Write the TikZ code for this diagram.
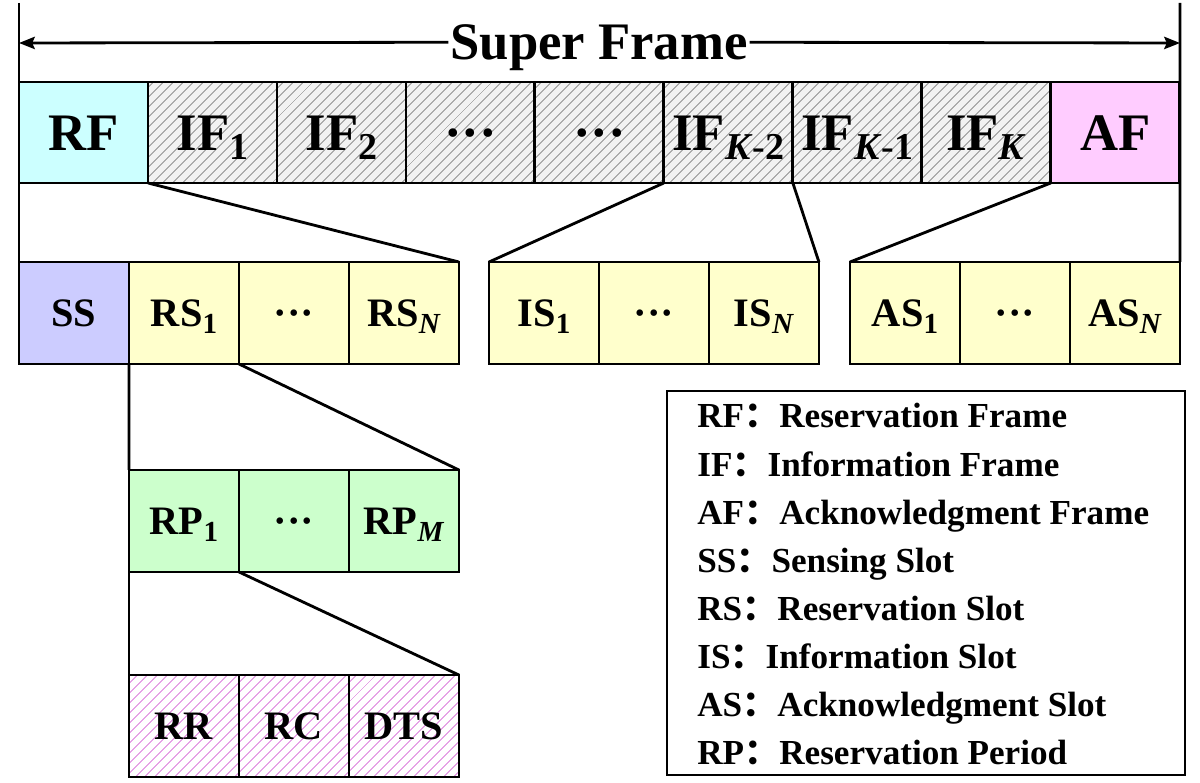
\documentclass[tikz,border=0pt]{standalone}
\usepackage{fontspec}
\setmainfont{Liberation Serif}
\newfontfamily\cjk{Noto Sans CJK SC}
\usetikzlibrary{positioning,arrows.meta,patterns.meta}

\definecolor{rfcyan}{HTML}{CCFFFF}
\definecolor{afpink}{HTML}{FFCCFF}
\definecolor{sslav}{HTML}{CCCCFF}
\definecolor{slotyel}{HTML}{FFFFCC}
\definecolor{rpgreen}{HTML}{CCFFCC}
\definecolor{ifbg}{HTML}{F2F2F2}
\definecolor{hatchpink}{HTML}{E6A3E6}

\newcommand{\idx}[1]{\raisebox{-0.17em}{\scalebox{0.72}{#1}}}

\tikzset{
	box/.style={draw, line width=1.6pt, inner sep=0pt, outer sep=0pt},
	frm/.style={box, minimum width=2.58cm, minimum height=2.02cm,
		text height=20pt, text depth=0pt, font=\bfseries\fontsize{30}{30}\selectfont},
	slot/.style={box, minimum width=2.2cm, minimum height=2.04cm,
		text height=15.2pt, text depth=0pt, font=\bfseries\fontsize{23}{23}\selectfont},
	hatchif/.style={preaction={fill=ifbg}, pattern={Lines[angle=45,distance=4pt,line width=0.7pt]}, pattern color=gray!65},
	hatchpk/.style={preaction={fill=white}, pattern={Lines[angle=45,distance=4pt,line width=0.7pt]}, pattern color=hatchpink},
	link/.style={line width=1.6pt},
	legtext/.style={anchor=base west, inner sep=0pt, font=\bfseries\fontsize{20}{20}\selectfont},
}

\begin{document}
\begin{tikzpicture}[x=0.02cm, y=-0.02cm]

\useasboundingbox (0,0) rectangle (1200,783);

% super frame row
\node [frm, fill=rfcyan, anchor=north west] (rf) at (19,82) {RF};
\node [frm, hatchif, right=0pt of rf] (if1) {IF\idx{1}};
\node [frm, hatchif, right=0pt of if1] (if2) {IF\idx{2}};
\node [frm, hatchif, right=0pt of if2] (dotsa) {···};
\node [frm, hatchif, right=0pt of dotsa] (dotsb) {···};
\node [frm, hatchif, right=0pt of dotsb] (ifk2) {IF\idx{\textit{K}-2}};
\node [frm, hatchif, right=0pt of ifk2] (ifk1) {IF\idx{\textit{K}-1}};
\node [frm, hatchif, right=0pt of ifk1] (ifk) {IF\idx{\textit{K}}};
\node [frm, fill=afpink, right=0pt of ifk] (af) {AF};

% span of the super frame
\coordinate (tl) at (19,3);
\coordinate (tr) at (1180,3);
\coordinate (al) at (19,43);
\coordinate (ar) at (1180,43);
\node [fill=white, inner sep=1pt, text height=20pt, text depth=0pt,
	font=\bfseries\fontsize{30}{30}\selectfont] (title) at (599,42) {Super Frame};

% reservation frame slots
\node [slot, fill=sslav, anchor=north west] (ss) at (19,262) {SS};
\node [slot, fill=slotyel, right=0pt of ss] (rs1) {RS\idx{1}};
\node [slot, fill=slotyel, right=0pt of rs1] (rsd) {···};
\node [slot, fill=slotyel, right=0pt of rsd] (rsn) {RS\idx{\textit{N}}};

% information frame slots
\node [slot, fill=slotyel, anchor=north west] (is1) at (489,262) {IS\idx{1}};
\node [slot, fill=slotyel, right=0pt of is1] (isd) {···};
\node [slot, fill=slotyel, right=0pt of isd] (isn) {IS\idx{\textit{N}}};

% acknowledgment frame slots
\node [slot, fill=slotyel, anchor=north west] (as1) at (850,262) {AS\idx{1}};
\node [slot, fill=slotyel, right=0pt of as1] (asd) {···};
\node [slot, fill=slotyel, right=0pt of asd] (asn) {AS\idx{\textit{N}}};

% reservation periods
\node [slot, fill=rpgreen, anchor=north west] (rp1) at (129,470) {RP\idx{1}};
\node [slot, fill=rpgreen, right=0pt of rp1] (rpd) {···};
\node [slot, fill=rpgreen, right=0pt of rpd] (rpm) {RP\idx{\textit{M}}};

% parts of one period
\node [slot, hatchpk, anchor=north west] (rr) at (129,675) {RR};
\node [slot, hatchpk, right=0pt of rr] (rc) {RC};
\node [slot, hatchpk, right=0pt of rc] (dts) {DTS};

% zoom lines
\draw [link] (tl) -- (ss.north west);
\draw [link] (tr) -- (asn.north east);
\draw [link, -{Stealth[length=9pt,width=7pt,inset=1.5pt]}] (title) -- (al);
\draw [link, -{Stealth[length=9pt,width=7pt,inset=1.5pt]}] (title) -- (ar);
\draw [link] (rf.south east) -- (rsn.north east);
\draw [link] (ifk2.south west) -- (is1.north west);
\draw [link] (ifk2.south east) -- (isn.north east);
\draw [link] (af.south west) -- (as1.north west);
\draw [link] (ss.south east) -- (rp1.north west);
\draw [link] (rs1.south east) -- (rpm.north east);
\draw [link] (rp1.south west) -- (rr.north west);
\draw [link] (rp1.south east) -- (dts.north east);

% legend
\node [box, minimum width=10.36cm, minimum height=7.68cm] (legend) at (926,583) {};
\foreach \ab/\txt [count=\i] in {RF/Reservation Frame, IF/Information Frame,
	AF/Acknowledgment Frame, SS/Sensing Slot, RS/Reservation Slot,
	IS/Information Slot, AS/Acknowledgment Slot, RP/Reservation Period}
	\node [legtext] (leg\i) at (697,{428+48.1*(\i-1)}) {\ab{\cjk ：}\txt};

\end{tikzpicture}
\end{document}
